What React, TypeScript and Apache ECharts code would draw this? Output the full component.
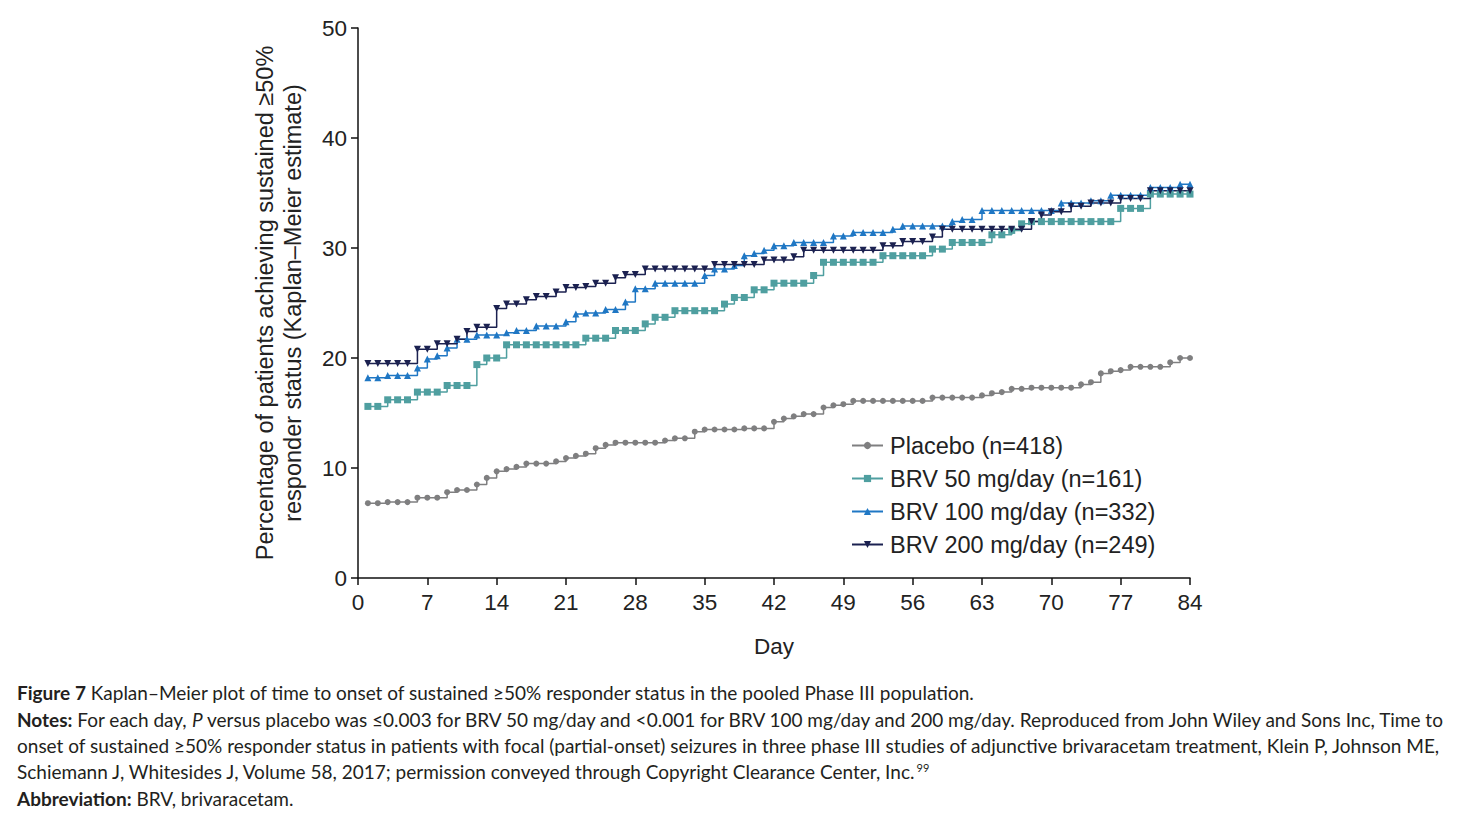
import { useEffect, useRef } from 'react';
import * as echarts from 'echarts';

// days on which the Kaplan–Meier estimate is marked
const days = Array.from({ length: 84 }, (_, i) => i + 1);

const placebo = [
  6.8, 6.8, 6.9, 6.9, 6.9, 7.3, 7.3,
  7.3, 7.8, 8.0, 8.0, 8.5, 9.1, 9.7,
  9.9, 10.1, 10.4, 10.4, 10.4, 10.6, 10.9,
  11.1, 11.3, 11.8, 12.1, 12.3, 12.3, 12.3,
  12.3, 12.3, 12.5, 12.7, 12.7, 13.3, 13.5,
  13.5, 13.5, 13.5, 13.6, 13.6, 13.6, 14.2,
  14.5, 14.7, 14.9, 14.9, 15.5, 15.7, 15.8,
  16.1, 16.1, 16.1, 16.1, 16.1, 16.1, 16.1,
  16.1, 16.4, 16.4, 16.4, 16.4, 16.4, 16.6,
  16.8, 16.9, 17.2, 17.2, 17.3, 17.3, 17.3,
  17.3, 17.3, 17.6, 17.8, 18.6, 18.8, 18.9,
  19.2, 19.2, 19.2, 19.2, 19.6, 20.0, 20.0,
];

const brv50 = [
  15.6, 15.6, 16.2, 16.2, 16.2, 16.9, 16.9,
  16.9, 17.5, 17.5, 17.5, 19.4, 20.0, 20.0,
  21.2, 21.2, 21.2, 21.2, 21.2, 21.2, 21.2,
  21.2, 21.8, 21.8, 21.8, 22.5, 22.5, 22.5,
  23.1, 23.7, 23.7, 24.3, 24.3, 24.3, 24.3,
  24.3, 24.9, 25.5, 25.5, 26.2, 26.2, 26.8,
  26.8, 26.8, 26.8, 27.5, 28.7, 28.7, 28.7,
  28.7, 28.7, 28.7, 29.3, 29.3, 29.3, 29.3,
  29.3, 29.9, 29.9, 30.5, 30.5, 30.5, 30.5,
  31.2, 31.2, 31.6, 32.2, 32.4, 32.4, 32.4,
  32.4, 32.4, 32.4, 32.4, 32.4, 32.4, 33.6,
  33.6, 33.6, 34.9, 34.9, 34.9, 34.9, 34.9,
];

const brv100 = [
  18.2, 18.2, 18.4, 18.4, 18.4, 19.1, 19.9,
  20.2, 20.9, 21.7, 21.7, 22.1, 22.1, 22.1,
  22.3, 22.5, 22.5, 22.9, 22.9, 22.9, 23.3,
  24.0, 24.1, 24.1, 24.4, 24.4, 25.1, 26.3,
  26.3, 26.8, 26.8, 26.8, 26.8, 26.8, 27.5,
  28.1, 28.1, 28.4, 29.3, 29.5, 29.8, 30.2,
  30.2, 30.5, 30.5, 30.5, 30.5, 31.1, 31.1,
  31.4, 31.4, 31.4, 31.4, 31.7, 32.0, 32.0,
  32.0, 32.0, 32.0, 32.4, 32.6, 32.6, 33.4,
  33.4, 33.4, 33.4, 33.4, 33.4, 33.4, 33.4,
  34.1, 34.1, 34.1, 34.3, 34.3, 34.8, 34.8,
  34.8, 34.8, 35.5, 35.5, 35.5, 35.8, 35.8,
];

const brv200 = [
  19.5, 19.5, 19.5, 19.5, 19.5, 20.8, 20.8,
  21.3, 21.3, 21.7, 22.4, 22.8, 22.8, 24.5,
  24.9, 24.9, 25.3, 25.6, 25.6, 26.0, 26.4,
  26.4, 26.5, 26.8, 26.8, 27.3, 27.6, 27.6,
  28.1, 28.1, 28.1, 28.1, 28.1, 28.1, 28.1,
  28.5, 28.5, 28.5, 28.5, 28.5, 28.9, 28.9,
  28.9, 29.2, 29.8, 29.8, 29.8, 29.8, 29.8,
  29.8, 29.8, 29.8, 30.2, 30.2, 30.6, 30.6,
  30.6, 31.0, 31.7, 31.7, 31.7, 31.7, 31.7,
  31.7, 31.7, 31.7, 31.7, 32.4, 33.0, 33.3,
  33.3, 33.8, 33.8, 34.1, 34.1, 34.1, 34.5,
  34.5, 34.5, 35.2, 35.2, 35.2, 35.2, 35.2,
];

const seriesNames = [
  'Placebo (n=418)',
  'BRV 50 mg/day (n=161)',
  'BRV 100 mg/day (n=332)',
  'BRV 200 mg/day (n=249)',
];

const captionLines = [
  '{b|Figure 7} Kaplan–Meier plot of time to onset of sustained ≥50% responder status in the pooled Phase III population.',
  '{b|Notes:} For each day, {i|P} versus placebo was ≤0.003 for BRV 50 mg/day and <0.001 for BRV 100 mg/day and 200 mg/day. Reproduced from John Wiley and Sons Inc, Time to',
  'onset of sustained ≥50% responder status in patients with focal (partial-onset) seizures in three phase III studies of adjunctive brivaracetam treatment, Klein P, Johnson ME,',
  'Schiemann J, Whitesides J, Volume 58, 2017; permission conveyed through Copyright Clearance Center, Inc.{s|99}',
  '{b|Abbreviation:} BRV, brivaracetam.',
];

const FONT = '"Liberation Sans", Arial, sans-serif';
const CAP_FONT = 'Lato, "Open Sans", sans-serif';

export default function App() {
  const chartRef = useRef<HTMLDivElement>(null);

  useEffect(() => {
    if (!chartRef.current) return;
    const chart = echarts.init(chartRef.current, null, { renderer: 'svg' });

    const mk = (
      name: string,
      values: number[],
      color: string,
      symbol: string,
      rotate = 0,
      size = 6
    ) => ({
      name,
      type: 'line',
      step: 'end',
      data: days.map((d, i) => [d, values[i]]),
      symbol,
      symbolRotate: rotate,
      symbolSize: size,
      showSymbol: true,
      lineStyle: { color, width: 1.5 },
      itemStyle: { color },
      z: 2,
    });

    const capStyle = {
      fontFamily: CAP_FONT,
      fontSize: 19,
      fill: '#231f20',
    };

    const option: any = {
      animation: false,
      backgroundColor: '#fff',
      grid: { left: 358, top: 28, width: 832, height: 550 },
      xAxis: {
        type: 'value',
        min: 0,
        max: 84,
        interval: 7,
        name: 'Day',
        nameLocation: 'middle',
        nameGap: 57,
        nameTextStyle: { fontFamily: FONT, fontSize: 22.5, color: '#222' },
        axisLine: { lineStyle: { color: '#111', width: 1.5 } },
        axisTick: { show: true, length: 7, lineStyle: { color: '#111', width: 1.5 } },
        axisLabel: { fontFamily: FONT, fontSize: 22.5, color: '#222', margin: 13 },
        splitLine: { show: false },
      },
      yAxis: {
        type: 'value',
        min: 0,
        max: 50,
        interval: 10,
        name: 'Percentage of patients achieving sustained ≥50%\nresponder status (Kaplan–Meier estimate)',
        nameLocation: 'middle',
        nameGap: 51,
        nameTextStyle: { fontFamily: FONT, fontSize: 23.5, color: '#222', lineHeight: 28 },
        axisLine: { show: true, lineStyle: { color: '#111', width: 1.5 } },
        axisTick: { show: true, length: 7, lineStyle: { color: '#111', width: 1.5 } },
        axisLabel: { fontFamily: FONT, fontSize: 22.5, color: '#222', margin: 11 },
        splitLine: { show: false },
      },
      legend: {
        orient: 'vertical',
        left: 846,
        top: 427,
        itemWidth: 31,
        itemHeight: 9,
        itemGap: 6,
        data: seriesNames,
        textStyle: {
          fontFamily: FONT,
          fontSize: 23.5,
          color: '#222',
          lineHeight: 27,
          padding: [0, 0, 0, 2],
        },
      },
      series: [
        mk(seriesNames[0], placebo, '#7f7f80', 'circle', 0, 6),
        mk(seriesNames[1], brv50, '#4f9fa0', 'rect', 0, 7),
        mk(seriesNames[2], brv100, '#1f77c4', 'triangle', 0, 7),
        mk(seriesNames[3], brv200, '#1b2150', 'triangle', 180, 7),
      ],
      graphic: captionLines.map((text, i) => ({
        type: 'text',
        left: 17,
        top: [683, 710, 736, 762, 789][i],
        style: {
          text,
          ...capStyle,
          rich: {
            b: { ...capStyle, fontWeight: 'bold' },
            i: { ...capStyle, fontStyle: 'italic' },
            s: { ...capStyle, fontSize: 11, verticalAlign: 'top', padding: [0, 0, 6, 0] },
          },
        },
      })),
    };

    chart.setOption(option);

    return () => {
      chart.dispose();
    };
  }, []);

  return (
    <div
      ref={chartRef}
      style={{ position: 'absolute', left: 0, top: 0, width: 1459, height: 824 }}
    />
  );
}
